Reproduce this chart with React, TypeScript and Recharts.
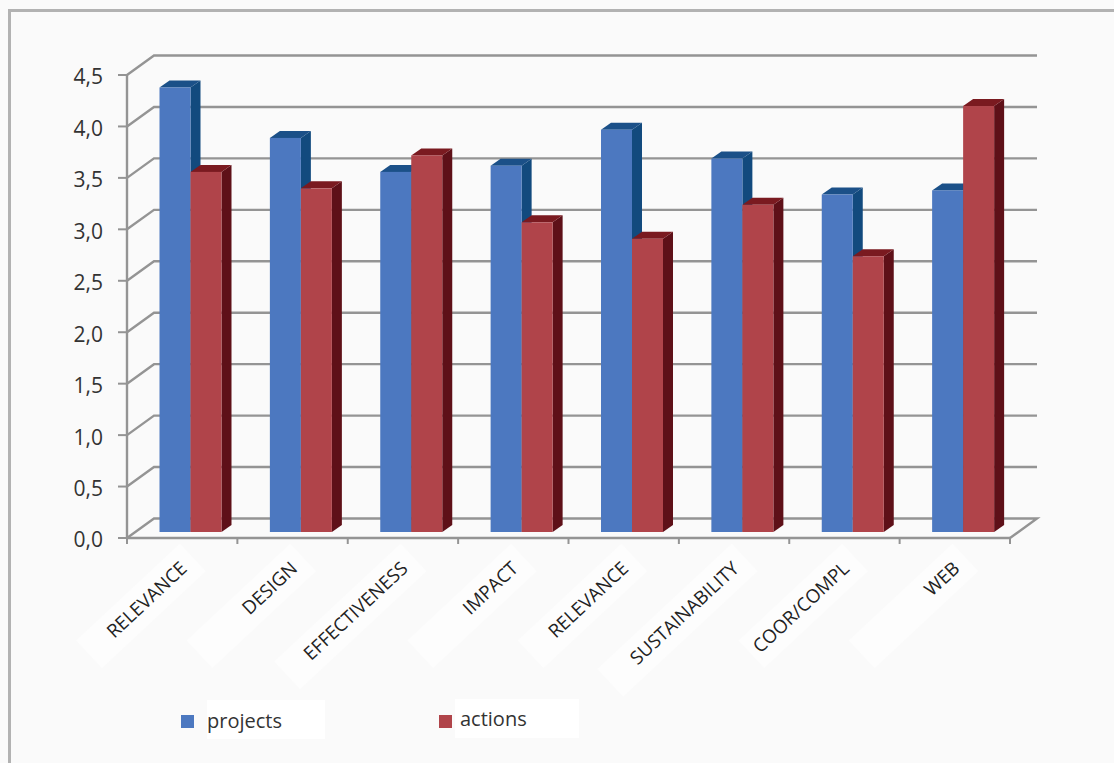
import React from "react";
import { BarChart, Bar, XAxis, YAxis, CartesianGrid, Legend } from "recharts";

// Category labels and the two scored series
const categories = ["RELEVANCE", "DESIGN", "EFFECTIVENESS", "IMPACT", "RELEVANCE", "SUSTAINABILITY", "COOR/COMPL", "WEB"];
const projects = [4.32, 3.83, 3.5, 3.56, 3.91, 3.63, 3.28, 3.32];
const actions = [3.5, 3.34, 3.66, 3.01, 2.85, 3.18, 2.68, 4.14];
const yTicks = [0, 0.5, 1, 1.5, 2, 2.5, 3, 3.5, 4, 4.5];

const rows = categories.map((name, i) => ({ id: i, name, projects: projects[i], actions: actions[i] }));

const WIDTH = 1114;
const HEIGHT = 763;
const PLOT = { left: 127, right: 1010, top: 75, bottom: 538 };
const BAND = (PLOT.right - PLOT.left) / categories.length;
const FONT = '"Open Sans", "Noto Sans", sans-serif';
const AXIS_GRAY = "#949494";

// Wall offset of the pseudo-3D frame, plane offset of the bars, and bar depth
const WALL = { dx: 27, dy: -19.5 };
const PLANE = { dx: 8.5, dy: -6 };
const DEPTH = { dx: 10, dy: -7 };

const blue = { front: "#4c78c0", side: "#124a7e", top: "#1b5088" };
const red = { front: "#b0444a", side: "#5e1018", top: "#7a1a20" };

// A gridline: diagonal up the side wall, then across the back wall
function WallLine(props: any) {
  const { x1, x2, y1 } = props;
  const backY = y1 + WALL.dy;
  const isFloor = y1 >= PLOT.bottom - 1;
  const d =
    `M${x1},${y1} L${x1 + WALL.dx},${backY} L${x2 + WALL.dx},${backY}` +
    (isFloor ? ` L${x2},${y1}` : "");
  return <path key={props.key} d={d} fill="none" stroke={AXIS_GRAY} strokeWidth={2.4} />;
}

function Box3D(props: any, colors: typeof blue) {
  const { x, y, width, height } = props;
  const fx = x + PLANE.dx;
  const fy = y + PLANE.dy;
  const base = fy + height;
  const rx = fx + width;
  return (
    <g>
      <path
        d={`M${rx},${fy} L${rx + DEPTH.dx},${fy + DEPTH.dy} L${rx + DEPTH.dx},${base + DEPTH.dy} L${rx},${base} Z`}
        fill={colors.side}
      />
      <path
        d={`M${fx},${fy} L${fx + DEPTH.dx},${fy + DEPTH.dy} L${rx + DEPTH.dx},${fy + DEPTH.dy} L${rx},${fy} Z`}
        fill={colors.top}
      />
      <rect x={fx} y={fy} width={width} height={height} fill={colors.front} />
    </g>
  );
}

const blueBox = (p: any) => Box3D(p, blue);
const redBox = (p: any) => Box3D(p, red);

function CategoryTick(props: any) {
  const { x, y, payload, index } = props;
  const label = String(payload.value);
  const patch = Math.max(142, label.length * 11 + 30);
  const tickX = x - BAND / 2;
  return (
    <g>
      <g transform={`translate(${x + 6},${y + 24}) rotate(-43)`}>
        <rect x={-patch + 12} y={-25} width={patch} height={38} fill="#ffffff" fillOpacity={0.5} />
        <text x={0} y={0} textAnchor="end" fontFamily={FONT} fontSize={18.7} fill="#222">
          {label}
        </text>
      </g>
      <line x1={tickX} x2={tickX} y1={PLOT.bottom} y2={PLOT.bottom + 6} stroke={AXIS_GRAY} strokeWidth={2} />
      {index === categories.length - 1 && (
        <line x1={x + BAND / 2} x2={x + BAND / 2} y1={PLOT.bottom} y2={PLOT.bottom + 6} stroke={AXIS_GRAY} strokeWidth={2} />
      )}
    </g>
  );
}

const legendSlots: Record<string, any> = {
  projects: { swatch: 181, box: 207, boxWidth: 118, boxTop: 700, text: 207, baseline: 728 },
  actions: { swatch: 439, box: 455, boxWidth: 124, boxTop: 699, text: 460, baseline: 726 },
};

function LegendBlock({ payload }: any) {
  return (
    <svg width={WIDTH} height={HEIGHT} style={{ display: "block" }}>
      {(payload || []).map((entry: any) => {
        const s = legendSlots[entry.value];
        return (
          <g key={entry.value}>
            <rect x={s.box} y={s.boxTop} width={s.boxWidth} height={39} fill="#ffffff" />
            <rect x={s.swatch} y={715} width={13} height={13} fill={entry.color} />
            <text x={s.text} y={s.baseline} fontFamily={FONT} fontSize={20} fill="#333">
              {entry.value}
            </text>
          </g>
        );
      })}
    </svg>
  );
}

export default function App() {
  return (
    <div style={{ position: "absolute", left: 0, top: 0, width: WIDTH, height: HEIGHT, background: "#fafafa", overflow: "hidden" }}>
      <div
        style={{
          position: "absolute",
          left: 8,
          top: 9,
          right: -4,
          bottom: -4,
          borderLeft: "3px solid #b2b2b2",
          borderTop: "3px solid #b2b2b2",
        }}
      />
      <div style={{ position: "absolute", left: 0, top: 0 }}>
        <BarChart
          width={WIDTH}
          height={HEIGHT}
          data={rows}
          margin={{ top: PLOT.top, right: WIDTH - PLOT.right, bottom: HEIGHT - PLOT.bottom - 30, left: 0 }}
          barGap={0}
          barCategoryGap={24}
        >
          <CartesianGrid horizontal={WallLine as any} vertical={false} />
          <XAxis
            dataKey="id"
            height={30}
            interval={0}
            tickLine={false}
            axisLine={{ stroke: AXIS_GRAY, strokeWidth: 2.4 }}
            tick={(p: any) => <CategoryTick {...p} payload={{ value: categories[p.payload.value] }} />}
          />
          <YAxis
            width={PLOT.left}
            domain={[0, 4.5]}
            ticks={yTicks}
            interval={0}
            tickSize={9}
            tickMargin={15}
            tickFormatter={(v: number) => v.toFixed(1).replace(".", ",")}
            axisLine={{ stroke: AXIS_GRAY, strokeWidth: 2.4 }}
            tickLine={{ stroke: AXIS_GRAY, strokeWidth: 2 }}
            tick={{ fontFamily: FONT, fontSize: 21, fill: "#333", dy: 2 }}
          />
          <Legend
            layout="horizontal"
            verticalAlign="middle"
            align="center"
            content={<LegendBlock />}
            wrapperStyle={{ left: 0, top: 0, width: WIDTH, height: HEIGHT, pointerEvents: "none" }}
          />
          <Bar dataKey="projects" name="projects" fill={blue.front} shape={blueBox} isAnimationActive={false} />
          <Bar dataKey="actions" name="actions" fill={red.front} shape={redBox} isAnimationActive={false} />
        </BarChart>
      </div>
    </div>
  );
}
